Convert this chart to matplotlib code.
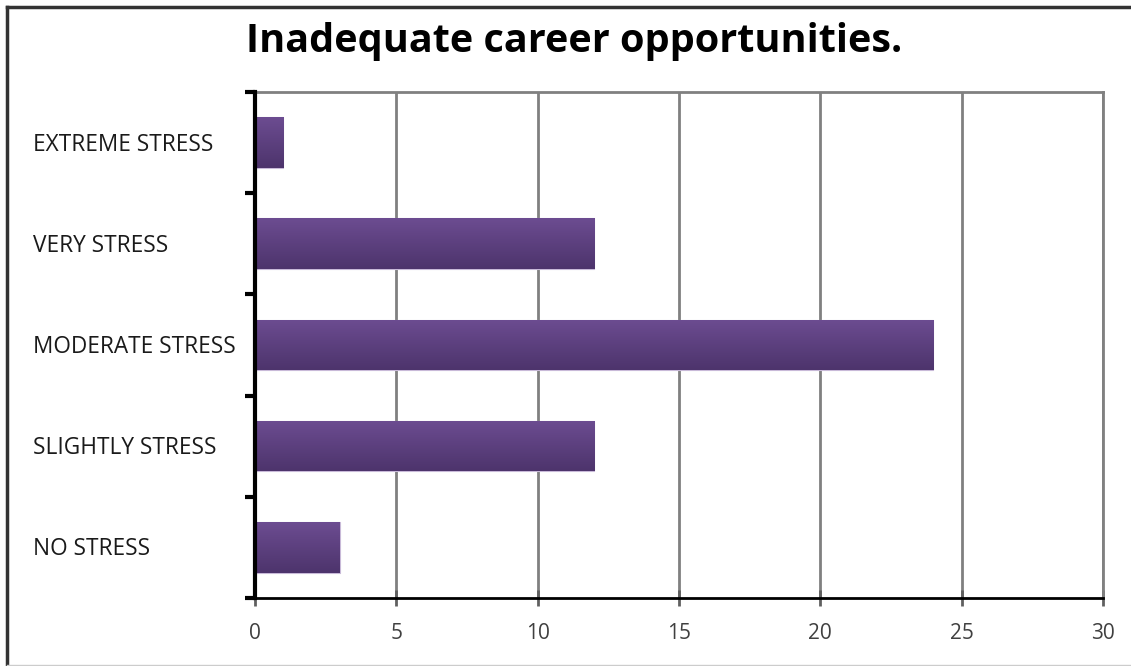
import numpy as np
import matplotlib
matplotlib.use("Agg")
import matplotlib.pyplot as plt
from matplotlib.colors import LinearSegmentedColormap
from matplotlib.lines import Line2D

# Responses per stress level
categories = ["EXTREME STRESS", "VERY STRESS", "MODERATE STRESS", "SLIGHTLY STRESS", "NO STRESS"]
counts = [1, 12, 24, 12, 3]
x_ticks = [0, 5, 10, 15, 20, 25, 30]

plt.rcParams['font.family'] = ['Open Sans', 'DejaVu Sans']

fig = plt.figure(figsize=(11.31, 6.66), dpi=100)
ax = fig.add_axes([0.2255, 0.1021, 0.7497, 0.7598])

ypos = np.arange(len(categories))
bars = ax.barh(ypos, counts, height=0.5, color="#5d4280", edgecolor="#c8b9d8", linewidth=0.8, zorder=3)

# vertical shading inside each bar: lighter on top, darker at the bottom
grad_cmap = LinearSegmentedColormap.from_list("barshade", ["#6c4c91", "#4d346c"])
grad = np.linspace(0, 1, 64).reshape(-1, 1)
for bar in bars:
    x0, y0 = bar.get_x(), bar.get_y()
    w, h = bar.get_width(), bar.get_height()
    im = ax.imshow(grad, cmap=grad_cmap, aspect="auto", origin="upper",
                   extent=[x0, x0 + w, y0 + h, y0], zorder=3.5)
    im.set_clip_path(bar)
ax.set_xlim(0, 30)
ax.set_ylim(len(categories) - 0.5, -0.5)

# grid and frame
ax.set_xticks(x_ticks)
ax.xaxis.grid(True, color="#808080", linewidth=2, zorder=1)
ax.set_axisbelow(True)
for side in ("top", "right"):
    ax.spines[side].set_color("#808080")
    ax.spines[side].set_linewidth(2)
ax.spines["left"].set_color("black")
ax.spines["left"].set_linewidth(3)
ax.spines["bottom"].set_color("black")
ax.spines["bottom"].set_linewidth(2)
ax.spines["left"].set_zorder(5)

# x ticks cross the axis line
ax.tick_params(axis="x", direction="inout", length=12, width=2, color="#606060",
               labelsize=15, labelcolor="#404040", pad=12)

# y ticks sit on the category boundaries, labels are placed by hand
ax.set_yticks(np.arange(-0.5, len(categories), 1.0))
ax.set_yticklabels([])
ax.tick_params(axis="y", direction="out", length=7, width=3, color="black")
for y, name in zip(ypos, categories):
    ax.text(-0.262, y + 0.02, name, transform=ax.get_yaxis_transform(), ha="left", va="center",
            fontsize=16.3, color="#1a1a1a")

fig.text(0.508, 0.937, "Inadequate career opportunities.", ha="center", va="center",
         fontsize=28.5, fontweight="bold", color="black")

# outer frame of the picture
fig.add_artist(Line2D([0.0065, 0.0065], [0, 0.99], transform=fig.transFigure, color="#333333", linewidth=2.5))
fig.add_artist(Line2D([0.0065, 1], [0.99, 0.99], transform=fig.transFigure, color="#333333", linewidth=2.5))
fig.add_artist(Line2D([0.0065, 1], [0.002, 0.002], transform=fig.transFigure, color="#cccccc", linewidth=1))

fig.savefig("out.png", dpi=100)
